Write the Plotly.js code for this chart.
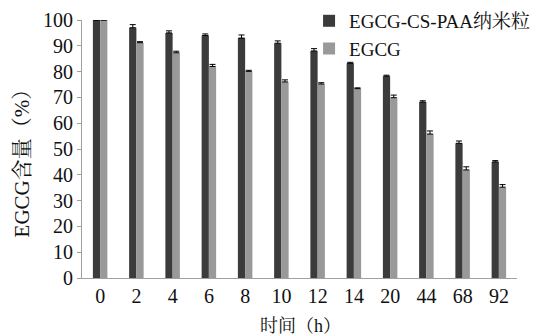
<!DOCTYPE html>
<html>
<head>
<meta charset="utf-8">
<script src="https://cdn.plot.ly/plotly-3.0.1.min.js"></script>
<style>html,body{margin:0;padding:0;background:#fff;}#chart{width:537px;height:335px;}</style>
</head>
<body>
<div id="chart"></div>
<script>
var categories = ["0","2","4","6","8","10","12","14","20","44","68","92"];
var nanoValues = [100, 97, 95, 94, 93, 91, 88, 83.2, 78.2, 68.2, 52.2, 45];
var nanoErrors = [0, 1.2, 0.8, 0.6, 1.2, 0.9, 0.9, 0.4, 0.4, 0.5, 0.9, 0.5];
var egcgValues = [100, 91.2, 87.3, 82, 80.1, 76, 75.2, 73.4, 69.9, 55.8, 41.9, 35.2];
var egcgErrors = [0, 0.4, 0.6, 0.8, 0.4, 0.8, 0.5, 0.3, 1, 1.2, 1.2, 1];
var yTicks = [0,10,20,30,40,50,60,70,80,90,100];
var xTitle = '时间（h）';
var yTitle = 'EGCG含量（%）';

var FONT = "'Liberation Serif', 'Noto Serif CJK SC', 'Noto Sans CJK SC', serif";

function zeros(a){ return a.map(function(){return 0;}); }

var traces = [
  {
    type: 'bar', name: 'EGCG-CS-PAA纳米粒', x: categories, y: nanoValues,
    marker: {color: '#3b3b3b'},
    error_y: {type: 'data', symmetric: false, array: nanoErrors, arrayminus: zeros(nanoErrors), color: '#000', thickness: 1, width: 3}
  },
  {
    type: 'bar', name: 'EGCG', x: categories, y: egcgValues,
    marker: {color: '#999999'},
    error_y: {type: 'data', symmetric: false, array: egcgErrors, arrayminus: zeros(egcgErrors), color: '#000', thickness: 1, width: 3}
  }
];

var layout = {
  width: 537, height: 335,
  margin: {l: 82, r: 2, t: 20, b: 57},
  paper_bgcolor: '#fff', plot_bgcolor: '#fff',
  font: {family: FONT, size: 20, color: '#111'},
  barmode: 'group', bargap: 0.6, bargroupgap: 0,
  showlegend: true,
  legend: {x: 0.522, y: 1.07, xanchor: 'left', yanchor: 'top', font: {family: FONT, size: 19, color: '#111'}, bgcolor: 'rgba(0,0,0,0)', tracegroupgap: 0, itemwidth: 30},
  xaxis: {
    type: 'category', showline: true, linecolor: '#a0a0a0', linewidth: 1,
    ticks: '', showgrid: false, zeroline: false,
    tickfont: {family: FONT, size: 20, color: '#111'}
  },
  yaxis: {
    range: [0, 100], tickvals: yTicks, showline: true, linecolor: '#a0a0a0', linewidth: 1,
    ticks: 'outside', ticklen: 4, tickcolor: '#a0a0a0', showgrid: false, zeroline: false,
    tickfont: {family: FONT, size: 20, color: '#111'}
  },
  annotations: [
    {text: xTitle, xref: 'paper', yref: 'paper', x: 0.503, y: -0.186, xanchor: 'center', yanchor: 'middle', showarrow: false, font: {family: FONT, size: 18, color: '#111'}},
    {text: yTitle, xref: 'paper', yref: 'paper', x: -0.137, y: 0.465, xanchor: 'center', yanchor: 'middle', textangle: -90, showarrow: false, font: {family: FONT, size: 21, color: '#111'}}
  ]
};

Plotly.newPlot('chart', traces, layout, {displayModeBar: false, staticPlot: true});
</script>
</body>
</html>
